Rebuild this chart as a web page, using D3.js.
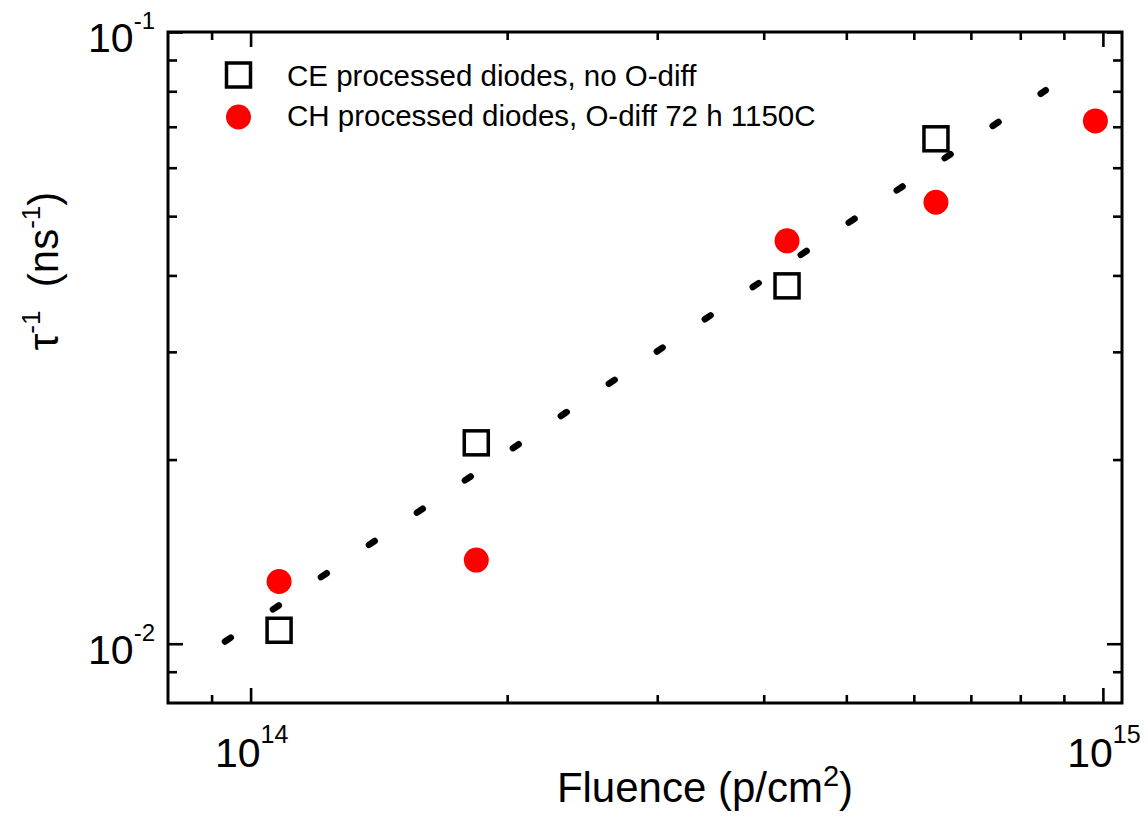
<!DOCTYPE html>
<html>
<head>
<meta charset="utf-8">
<script src="https://cdn.jsdelivr.net/npm/d3@7"></script>
<style>
  body { margin: 0; background: #fff; }
  text { font-family: 'Liberation Sans', Arial, sans-serif; fill: #000; }
</style>
</head>
<body>
<script>
'use strict';

// CE processed diodes (open squares)
const ceFluence = [1.08e14, 1.84e14, 4.26e14, 6.37e14];
const ceRate    = [0.01052, 0.0213, 0.03846, 0.0669];

// CH processed diodes (red dots)
const chFluence = [1.08e14, 1.84e14, 4.26e14, 6.37e14, 9.8e14];
const chRate    = [0.01264, 0.0137, 0.04556, 0.05268, 0.07155];

// dashed fit, end points
const fitFluence = [9.3e13, 8.57e14];
const fitRate    = [0.01005, 0.0803];

const xMajor = [1e14, 1e15];
const xMajorExp = ['14', '15'];
const yMajor = [1e-2, 1e-1];
const yMajorExp = ['-2', '-1'];

const legendLabels = [
  'CE processed diodes, no O-diff',
  'CH processed diodes, O-diff 72 h 1150C'
];

const width  = 1146;
const height = 822;
const margin = { top: 32, right: 24, bottom: 119, left: 168 };

const x = d3.scaleLog()
            .domain([8e13, 1.053e15])
            .range([margin.left, width - margin.right]);

const y = d3.scaleLog()
            .domain([0.008, 0.1])
            .range([height - margin.bottom, margin.top]);

const isMajor = (v) => Math.abs(Math.log10(v) - Math.round(Math.log10(v))) < 1e-9;

const xMinor = x.ticks().filter((v) => !isMajor(v) && v > x.domain()[0]);
const yMinor = y.ticks().filter((v) => !isMajor(v) && v > y.domain()[0]);

const svg = d3.select('body')
              .append('svg')
              .attr('xmlns', 'http://www.w3.org/2000/svg')
              .attr('width', width)
              .attr('height', height);

// inward ticks on all four sides
function drawAxis(axisFn, scale, values, size, transform) {
  const g = svg.append('g')
               .attr('transform', transform)
               .call(axisFn(scale).tickValues(values).tickSize(-size).tickFormat(''));
  g.select('.domain').remove();
  g.selectAll('line').attr('stroke', '#000').attr('stroke-width', 2.6);
}

const bottomY = height - margin.bottom;
const rightX  = width - margin.right;

drawAxis(d3.axisBottom, x, xMajor, 15, 'translate(0,' + bottomY + ')');
drawAxis(d3.axisBottom, x, xMinor, 8,  'translate(0,' + bottomY + ')');
drawAxis(d3.axisTop,    x, xMajor, 15, 'translate(0,' + margin.top + ')');
drawAxis(d3.axisTop,    x, xMinor, 8,  'translate(0,' + margin.top + ')');
drawAxis(d3.axisLeft,   y, yMajor, 15, 'translate(' + margin.left + ',0)');
drawAxis(d3.axisLeft,   y, yMinor, 9,  'translate(' + margin.left + ',0)');
drawAxis(d3.axisRight,  y, yMajor, 15, 'translate(' + rightX + ',0)');
drawAxis(d3.axisRight,  y, yMinor, 9,  'translate(' + rightX + ',0)');

svg.append('rect')
   .attr('x', margin.left)
   .attr('y', margin.top)
   .attr('width', rightX - margin.left)
   .attr('height', bottomY - margin.top)
   .attr('fill', 'none')
   .attr('stroke', '#000')
   .attr('stroke-width', 3);

// tick labels as 10^n
xMajor.forEach((v, i) => {
  const t = svg.append('text')
               .attr('x', x(v) + 1)
               .attr('y', bottomY + 64)
               .attr('text-anchor', 'middle')
               .style('font-size', '41px');
  t.append('tspan').text('10');
  t.append('tspan').attr('dy', -24).style('font-size', '25px').text(xMajorExp[i]);
});

yMajor.forEach((v, i) => {
  const t = svg.append('text')
               .attr('x', margin.left - 13)
               .attr('y', y(v) + 20)
               .attr('text-anchor', 'end')
               .style('font-size', '41px');
  t.append('tspan').text('10');
  t.append('tspan').attr('dy', -23).style('font-size', '24px').text(yMajorExp[i]);
});

// axis titles
const xt = svg.append('text')
              .attr('x', 705)
              .attr('y', 802)
              .attr('text-anchor', 'middle')
              .style('font-size', '42px');
xt.append('tspan').text('Fluence (p/cm');
xt.append('tspan').attr('dy', -16).style('font-size', '29px').text('2');
xt.append('tspan').attr('dy', 16).text(')');

const yt = svg.append('text')
              .attr('transform', 'translate(58,271) rotate(-90)')
              .attr('text-anchor', 'middle')
              .attr('xml:space', 'preserve')
              .style('font-size', '42px');
yt.append('tspan').text('\u03c4');
yt.append('tspan').attr('dy', -18).style('font-size', '26px').text('-1');
yt.append('tspan').attr('dy', 18).text('  (ns');
yt.append('tspan').attr('dy', -18).style('font-size', '26px').text('-1');
yt.append('tspan').attr('dy', 18).text(')');

// markers
const sq = 24;

svg.append('g')
   .selectAll('rect')
   .data(ceFluence)
   .join('rect')
   .attr('x', (d) => x(d) - sq / 2)
   .attr('y', (d, i) => y(ceRate[i]) - sq / 2)
   .attr('width', sq)
   .attr('height', sq)
   .attr('fill', 'none')
   .attr('stroke', '#000')
   .attr('stroke-width', 3.5);

svg.append('g')
   .selectAll('circle')
   .data(chFluence)
   .join('circle')
   .attr('cx', (d) => x(d))
   .attr('cy', (d, i) => y(chRate[i]))
   .attr('r', 12.5)
   .attr('fill', '#ff0000');

// dashed fit line
const line = d3.line()
               .x((d) => x(d))
               .y((d, i) => y(fitRate[i]));

svg.append('path')
   .attr('d', line(fitFluence))
   .attr('fill', 'none')
   .attr('stroke', '#000')
   .attr('stroke-width', 6.5)
   .attr('stroke-linecap', 'round')
   .attr('stroke-dasharray', '7 50.8')
   .attr('stroke-dashoffset', -1.5);

// legend
const leg = svg.append('g');

leg.append('rect')
   .attr('x', 238.5 - sq / 2)
   .attr('y', 75 - sq / 2)
   .attr('width', sq)
   .attr('height', sq)
   .attr('fill', 'none')
   .attr('stroke', '#000')
   .attr('stroke-width', 3.5);

leg.append('circle')
   .attr('cx', 238.5)
   .attr('cy', 117)
   .attr('r', 12.5)
   .attr('fill', '#ff0000');

legendLabels.forEach((label, i) => {
  leg.append('text')
     .attr('x', 287)
     .attr('y', 86 + i * 40)
     .style('font-size', '29.5px')
     .text(label);
});
</script>
</body>
</html>
